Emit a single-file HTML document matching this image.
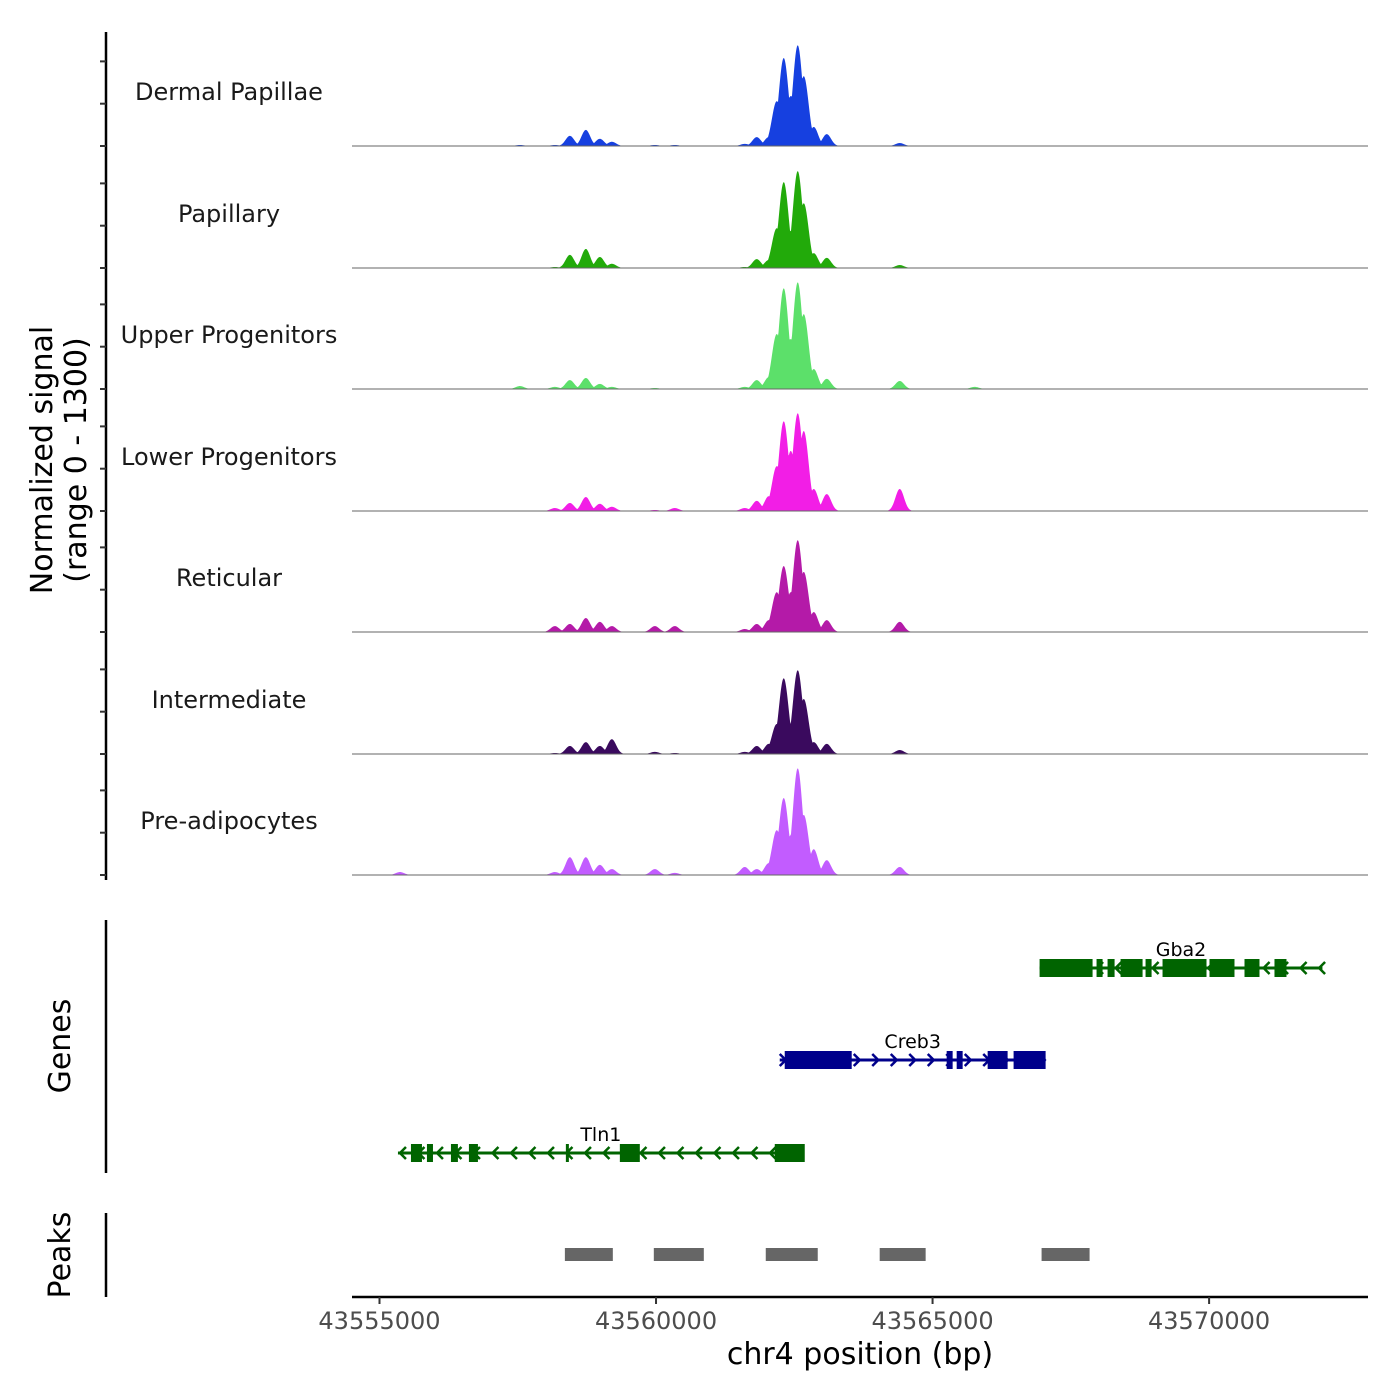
<!DOCTYPE html>
<html><head><meta charset="utf-8"><style>
body{margin:0;background:#fff}
svg{display:block;font-family:"DejaVu Sans","Liberation Sans",sans-serif}
</style></head><body>
<svg id="chart" width="1400" height="1400" viewBox="0 0 1400 1400"></svg>
<script>
// ---- data ----
const xDomain=[43554503,43572873];
const xTicks=[43555000,43560000,43565000,43570000];
const trackNames=["Dermal Papillae","Papillary","Upper Progenitors","Lower Progenitors","Reticular","Intermediate","Pre-adipocytes"];
const trackColors=["#1640e0","#22aa0a","#5ce06a","#f21ee6","#b41aa8","#3a0a5e","#c25cff"];
const peakCenters=[43555370,43557539,43558171,43558442,43558731,43558984,43559201,43559978,43560339,43561604,43561821,43562038,43562183,43562309,43562436,43562562,43562671,43562852,43563087,43564406,43565761];
const sigDP=[0,12,12,120,190,85,50,12,12,25,105,105,530,1040,590,1190,825,225,140,35,0];
const sigPap=[0,0,12,155,225,130,50,0,0,12,105,95,470,1015,435,1145,765,175,120,35,0];
const sigUpper=[0,35,25,105,130,60,25,12,0,25,105,140,650,1190,590,1260,885,235,120,95,25];
const sigLower=[0,0,35,95,165,85,50,12,35,35,120,175,530,1060,710,1155,945,260,200,260,0];
const sigRet=[0,0,70,95,165,120,70,70,70,35,95,140,470,780,470,1085,710,235,140,120,0];
const sigInt=[0,0,12,95,140,95,175,25,12,25,95,120,355,895,355,990,650,140,120,47,0];
const sigPre=[35,0,35,210,210,120,70,70,25,95,70,140,530,910,470,1260,710,305,175,95,0];
const signals=[sigDP,sigPap,sigUpper,sigLower,sigRet,sigInt,sigPre];
const genes=[
 {name:"Gba2",strand:-1,start:43566935,end:43572049,row:0,color:"#006400",
  exons:[[43566935,43567893],[43567965,43568074],[43568164,43568291],[43568399,43568797],[43568851,43568960],[43569158,43569953],[43570007,43570459],[43570640,43570911],[43571182,43571399]]},
 {name:"Creb3",strand:1,start:43562237,end:43567044,row:1,color:"#00008b",
  exons:[[43562327,43563538],[43565255,43565363],[43565436,43565544],[43565996,43566357],[43566465,43567044]]},
 {name:"Tln1",strand:-1,start:43555334,end:43562670,row:2,color:"#006400",
  exons:[[43555569,43555768],[43555858,43555967],[43556292,43556418],[43556617,43556780],[43558370,43558424],[43559346,43559707],[43562147,43562689]]}
];
const peakStarts=[43558352,43559960,43561984,43564044,43566971];
const peakEnds=[43559219,43560864,43562924,43564875,43567839];

// ---- layout ----
const NS="http://www.w3.org/2000/svg";
const svg=document.getElementById('chart');
const X0=352,X1=1368;
const x=v=>X0+(v-xDomain[0])/(xDomain[1]-xDomain[0])*(X1-X0);
const baselines=[146,268,389,511,632,754,875];
const yScale=v=>v/1300*110;
function el(tag,attrs,parent){const e=document.createElementNS(NS,tag);for(const k in attrs)e.setAttribute(k,attrs[k]);(parent||svg).appendChild(e);return e;}
function txt(s,attrs,parent){const t=el('text',attrs,parent);t.textContent=s;return t;}

// y axis
const ya=el('line',{x1:106,y1:32,x2:106,y2:880,stroke:'#000','stroke-width':2.5});


baselines.forEach(b=>{[0,500,1000].forEach(v=>{
 const t=el('line',{x1:100,x2:106,y1:b-yScale(v),y2:b-yScale(v),stroke:'#333','stroke-width':2});
 
 
});});
const yt=txt('',{transform:'translate(52,460) rotate(-90)','text-anchor':'middle','font-size':30,fill:'#000'});
yt.innerHTML='<tspan x="0" dy="0">Normalized signal</tspan><tspan x="0" dy="34">(range 0 - 1300)</tspan>';



// tracks
signals.forEach((vals,i)=>{
 const b=baselines[i];
 let d=`M${X0},${b}`;
 for(let px=X0;px<=X1;px+=0.5){
  let m=0;
  const bp=xDomain[0]+(px-X0)/(xDomain[1]-xDomain[0])*(xDomain[1]-xDomain[0])/(X1-X0)*(xDomain[1]-xDomain[0])/(xDomain[1]-xDomain[0])+xDomain[0]*0;
  const g=xDomain[0]+(px-X0)/(X1-X0)*(xDomain[1]-xDomain[0]);
  peakCenters.forEach((c,j)=>{const dx=(g-c)/(j>=12&&j<=16?88:78);const v=vals[j]*Math.exp(-dx*dx/2);if(v>m)m=v;});
  d+=`L${px},${(b-yScale(m)).toFixed(2)}`;
 }
 d+=`L${X1},${b}Z`;
 const p=el('path',{d,fill:trackColors[i]});
 
 
 const bl=el('line',{x1:X0,x2:X1,y1:b,y2:b,stroke:'#666','stroke-width':1});
 
 
 const lab=txt(trackNames[i],{x:229,y:b-46,'text-anchor':'middle','font-size':24,fill:'#1a1a1a'});
 
 
});

// genes
const ga=el('line',{x1:106,y1:920,x2:106,y2:1173,stroke:'#000','stroke-width':2.5});


const gt=txt('Genes',{transform:'translate(70,1046) rotate(-90)','text-anchor':'middle','font-size':30});


const rowY=[968,1060,1153];
genes.forEach(g=>{
 const y=rowY[g.row];
 const grp=el('g',{});
 
 
 el('line',{x1:x(g.start),x2:x(g.end),y1:y,y2:y,stroke:g.color,'stroke-width':3},grp);
 for(let px=x(g.start)+4;px<x(g.end);px+=18.5){
  const a=g.strand>0?`M${px-4},${y-6}L${px+2},${y}L${px-4},${y+6}`:`M${px+4},${y-6}L${px-2},${y}L${px+4},${y+6}`;
  el('path',{d:a,fill:'none',stroke:g.color,'stroke-width':2.5},grp);
 }
 g.exons.forEach(e=>el('rect',{x:x(e[0]),y:y-9,width:Math.max(3,x(e[1])-x(e[0])),height:18,fill:g.color},grp));
 const lt=txt(g.name,{x:(x(g.start)+x(g.end))/2,y:y-12,'text-anchor':'middle','font-size':19},grp);
 
 
});

// peaks
const pa=el('line',{x1:106,y1:1213,x2:106,y2:1297,stroke:'#000','stroke-width':2.5});


const pt=txt('Peaks',{transform:'translate(70,1255) rotate(-90)','text-anchor':'middle','font-size':30});


peakStarts.forEach((s,i)=>{
 const r=el('rect',{x:x(s),y:1248,width:x(peakEnds[i])-x(s),height:13,fill:'#666'});
 
 
});

// x axis
const xa=el('line',{x1:X0,x2:X1,y1:1297,y2:1297,stroke:'#000','stroke-width':2.5});


xTicks.forEach(t=>{
 const tk=el('line',{x1:x(t),x2:x(t),y1:1297,y2:1304,stroke:'#333','stroke-width':2});
 
 
 const tl=txt(String(t),{x:x(t),y:1329,'text-anchor':'middle','font-size':24,fill:'#4d4d4d'});
 
 
});
const xt=txt('chr4 position (bp)',{x:860,y:1364,'text-anchor':'middle','font-size':30});


</script>
</body></html>
